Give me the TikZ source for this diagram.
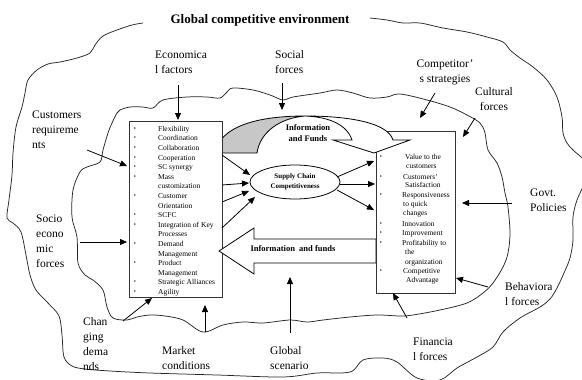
\documentclass[tikz,border=0pt]{standalone}
\usepackage{fontspec}
\setmainfont{Liberation Serif}
\usetikzlibrary{arrows.meta,shapes.geometric}
\begin{document}
\begin{tikzpicture}[x=1pt,y=-1pt,
  cloud/.style={draw=black!85, line width=0.75pt},
  lbl/.style={font=\fontsize{11.5}{15}\selectfont, align=left, inner sep=0pt, anchor=west},
  lblc/.style={font=\fontsize{11.5}{15}\selectfont, align=center, inner sep=0pt},
  arr/.style={draw=black, line width=0.8pt, -{Triangle[length=7pt,width=6pt]}},
  item/.style={font=\fontsize{7.5}{9}\selectfont, inner sep=0pt, anchor=mid west},
  bul/.style={font=\fontsize{6}{6}\selectfont, inner sep=0pt},
  boxline/.style={draw=black!80, line width=0.9pt, fill=white, inner sep=0pt, anchor=north west},
  flow/.style={draw=black, line width=0.8pt, fill=white, line join=miter},
  ]
\useasboundingbox (0,0) rectangle (582,380);

% outer cloud
\draw[cloud] plot[smooth, tension=0.55] coordinates {
 (143,23) (132,25) (117,30) (103,36) (95,45) (90,53) (77,58) (60,62) (48,64)
 (37,70) (28,80) (25,93) (22,107) (16,127) (13,153) (12,175) (9,200) (7,218)
 (13,223) (21,232) (26,255) (30,275) (36,290) (48,303) (59,316) (62,335) (64,357)
 (72,366) (85,369) (110,371) (150,373) (217,375) (283,377) (317,373) (350,372)
 (363,360) (383,358) (397,362) (417,378) (440,380) (457,368) (477,357) (493,347)
 (503,332) (520,318) (540,307) (550,299) (557,288) (564,273) (570,258) (573,240)
 (573,217) (577,200) (584,185) (590,172) (584,160) (573,150) (567,143) (563,133)
 (562,117) (557,97) (547,80) (533,67) (520,58) (510,50) (503,42) (487,37) (467,32)
 (443,28) (420,23) (403,23) (387,20) (370,18)};

% inner cloud
\draw[cloud] plot[smooth cycle, tension=0.55] coordinates {
 (120,110) (130,107) (143,107) (153,108) (163,100) (187,97) (207,97) (220,98)
 (227,92) (233,88) (253,90) (270,95) (283,100) (293,97) (320,93) (337,90) (353,93)
 (370,98) (387,97) (400,94) (427,100) (450,107) (467,115) (480,123) (485,133)
 (488,150) (497,163) (502,177) (505,193) (508,207) (510,233) (508,253) (503,267)
 (493,283) (483,293) (467,303) (440,310) (413,315) (400,316) (377,315) (350,317)
 (323,320) (307,322) (290,320) (263,323) (243,322) (223,325) (203,332) (183,320)
 (165,316) (150,315) (137,317) (127,320) (113,318) (107,307) (103,290) (93,280)
 (85,275) (78,263) (77,237) (72,217) (73,190) (80,172) (87,167) (100,162)
 (103,150) (108,133) (112,123) (117,113)};

% title
\node[font=\bfseries\fontsize{13}{15}\selectfont, inner sep=0pt] (title) at (260,20) {Global competitive environment};

% right box
\node[boxline, minimum width=79pt, minimum height=162pt] (rbox) at (376,131) {};

% curved arrow (Information and Funds)
\draw[flow] (305,116) .. controls (350,116) and (388,123) .. (393,140)
  -- (410,140) -- (374,153) -- (333,140) -- (352,140)
  .. controls (347,125) and (330,117) .. (305,116) -- cycle;
\draw[flow, fill=black!22] (215,153) .. controls (220,126) and (258,116) .. (305,116)
  .. controls (280,118) and (260,132) .. (257,153) -- cycle;
\node[font=\bfseries\fontsize{8.5}{11}\selectfont, align=center, inner sep=0pt] (topinfo) at (308,133) {Information\\and Funds};

% left box
\node[boxline, minimum width=93pt, minimum height=176pt] (lbox) at (129,121) {};

% big left arrow (Information and funds)
\draw[flow] (219,251) -- (254,228) -- (254,239) -- (376,239) -- (376,263)
  -- (254,263) -- (254,274) -- cycle;
\node[font=\bfseries\fontsize{8.5}{10}\selectfont, inner sep=0pt] (botinfo) at (293,249) {Information\ \ and funds};

% ellipse
\node[ellipse, draw, line width=0.8pt, fill=white, minimum width=90pt, minimum height=34pt,
  inner sep=0pt, font=\bfseries\fontsize{7}{9.5}\selectfont, align=center] (sc) at (295,182)
  {Supply Chain\\Competitiveness};

% left list
\foreach \txt/\bl [count=\i from 0] in {Flexibility/1,Coordination/1,Collaboration/1,
  Cooperation/1,SC synergy/1,Mass/1,customization/0,Customer/1,Orientation/0,SCFC/1,
  Integration of Key/1,Processes/0,Demand/1,Management/0,Product/1,Management/0,
  Strategic Alliances/1,Agility/1}{
  \node[item] (li\i) at (158,{129+9.6*\i}) {\txt};
  \ifnum\bl=1 \node[bul] (lb\i) at (135,{129+9.6*\i}) {\textbullet};\fi
}

% right list
\foreach \txt/\yy/\xx/\bl [count=\i] in {Value to the/157/405/1,customers/166.5/406/0,
  Customers'/177/403/1,Satisfaction/185.5/405/0,Responsiveness/195/402/1,
  to quick/204/403/0,changes/213.5/403/0,Innovation/224/402/1,Improvement/233.5/402/1,
  Profitability to/243/402/1,the/252.5/405/0,organization/262/405/0,
  Competitive/271.5/403/1,Advantage/280.5/406/0}{
  \node[item] (ri\i) at (\xx,\yy) {\txt};
  \ifnum\bl=1 \node[bul] (rb\i) at (381,\yy) {\textbullet};\fi
}

% arrows from left box into ellipse
\coordinate (l1) at (222,155); \coordinate (e1) at (250,175);
\coordinate (l2) at (222,185); \coordinate (e2) at (249,183);
\coordinate (l3) at (222,202); \coordinate (e3) at (249,191);
\coordinate (l4) at (222,228); \coordinate (e4) at (255,197);
\foreach \k in {1,2,3,4}{\draw[arr] (l\k) -- (e\k);}
% arrows from ellipse to right box
\coordinate (s1) at (337,177); \coordinate (r1) at (374,161);
\coordinate (s2) at (340,184); \coordinate (r2) at (375,184);
\coordinate (s3) at (337,190); \coordinate (r3) at (374,210);
\foreach \k in {1,2,3}{\draw[arr] (s\k) -- (r\k);}

% outside labels
\node[lbl] (econ) at (155,62.5) {Economica\\l factors};
\node[lbl] (social) at (275,62.5) {Social\\forces};
\node[lblc] (comp) at (445,72.5) {Competitor'\\s strategies};
\node[lblc] (cult) at (494,99.5) {Cultural\\forces};
\node[lbl] (cust) at (32,130) {Customers\\requireme\\nts};
\node[lbl] (socio) at (36,241.5) {Socio\\econo\\mic\\forces};
\node[lbl] (chan) at (83,344) {Chan\\ging\\dema\\nds};
\node[lbl] (market) at (162,358) {Market\\conditions};
\node[lbl] (global) at (270,358) {Global\\scenario};
\node[lbl] (fin) at (413,349.5) {Financia\\l forces};
\node[lbl] (behav) at (505,294.5) {Behaviora\\l forces};
\node[lbl] (govt) at (530,200.5) {Govt.\\Policies};

% label arrows
\coordinate (econA) at (178,85);   \coordinate (econB) at (178,120);
\coordinate (socA) at (282,83);    \coordinate (socB) at (282,110);
\coordinate (custA) at (87,150);   \coordinate (custB) at (127,166);
\coordinate (socioA) at (80,242);  \coordinate (socioB) at (127,242);
\coordinate (chanA) at (123,321);  \coordinate (chanB) at (152,298);
\coordinate (markA) at (205,332);  \coordinate (markB) at (205,305);
\coordinate (globA) at (290,333);  \coordinate (globB) at (290,277);
\coordinate (finA) at (407,318);   \coordinate (finB) at (393,293);
\coordinate (behA) at (488,287);   \coordinate (behB) at (456,278);
\coordinate (govA) at (512,203);   \coordinate (govB) at (462,203);
\coordinate (culA) at (475,118);   \coordinate (culB) at (463,137);
\coordinate (comA) at (435,93);    \coordinate (comB) at (420,118);
\foreach \p in {econ,soc,cust,socio,chan,mark,glob,fin,beh,gov,cul,com}{
  \draw[arr] (\p A) -- (\p B);}
\end{tikzpicture}
\end{document}
